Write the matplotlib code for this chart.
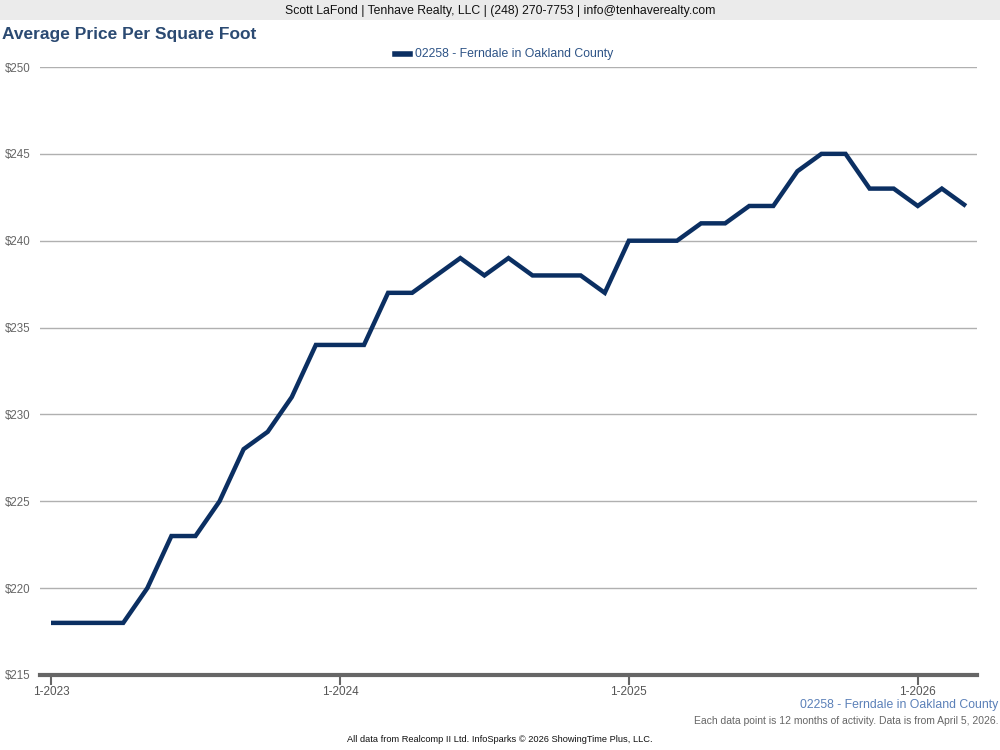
import matplotlib
matplotlib.use("Agg")
import matplotlib.pyplot as plt  # noqa: E402
from matplotlib.patches import Rectangle  # noqa: E402

plt.rcParams["font.family"] = ["Liberation Sans", "DejaVu Sans"]

# -------------------------------
# Data (monthly, 12-month rolling)
# -------------------------------
months = [
    "1-2023", "2-2023", "3-2023", "4-2023", "5-2023", "6-2023", "7-2023", "8-2023",
    "9-2023", "10-2023", "11-2023", "12-2023",
    "1-2024", "2-2024", "3-2024", "4-2024", "5-2024", "6-2024", "7-2024", "8-2024",
    "9-2024", "10-2024", "11-2024", "12-2024",
    "1-2025", "2-2025", "3-2025", "4-2025", "5-2025", "6-2025", "7-2025", "8-2025",
    "9-2025", "10-2025", "11-2025", "12-2025",
    "1-2026", "2-2026", "3-2026",
]
price_per_sqft = [
    218, 218, 218, 218, 220, 223, 223, 225, 228, 229, 231, 234,
    234, 234, 237, 237, 238, 239, 238, 239, 238, 238, 238, 237,
    240, 240, 240, 241, 241, 242, 242, 244, 245, 245, 243, 243,
    242, 243, 242,
]
series_name = "02258 - Ferndale in Oakland County"
y_ticks = [215, 220, 225, 230, 235, 240, 245, 250]

LINE_COLOR = "#0b2f62"
TITLE_COLOR = "#2b4a72"

fig = plt.figure(figsize=(10, 7.5), dpi=100)

# header band
fig.patches.append(Rectangle((0, 1 - 20 / 750), 1, 20 / 750, transform=fig.transFigure,
                             facecolor="#ebebeb", edgecolor="none", zorder=0))
fig.text(0.5, 1 - 11 / 750, "Scott LaFond | Tenhave Realty, LLC | (248) 270-7753 | info@tenhaverealty.com",
         ha="center", va="center", fontsize=8.8, color="#111111")
fig.text(0.002, 1 - 35 / 750, "Average Price Per Square Foot", ha="left", va="center",
         fontsize=12.5, fontweight="bold", color=TITLE_COLOR)

ax = fig.add_axes([0.04, 1 - 675 / 750, 0.937, (675 - 67) / 750])
x = list(range(len(months)))
ax.plot(x, price_per_sqft, color=LINE_COLOR, linewidth=3.2, solid_joinstyle="miter",
        solid_capstyle="butt", zorder=3)

ax.set_xlim(-0.457, 38.46)
ax.set_ylim(215, 250)
ax.set_yticks(y_ticks)
ax.set_yticklabels([f"${v}" for v in y_ticks], fontsize=8.3, color="#666666")
year_idx = [i for i, m in enumerate(months) if m.startswith("1-")]
ax.set_xticks(year_idx)
ax.set_xticklabels([months[i] for i in year_idx], fontsize=8.5, color="#555555")
ax.tick_params(axis="y", length=0, pad=7)
ax.tick_params(axis="x", length=7, width=1.5, color="#666666", direction="out", pad=1)
ax.grid(axis="y", color="#b0b0b0", linewidth=1)
ax.set_axisbelow(True)
for side in ["top", "right", "left"]:
    ax.spines[side].set_visible(False)
ax.spines["bottom"].set_color("#666666")
ax.spines["bottom"].set_linewidth(3)

# legend
fig.lines.append(plt.Line2D([395 / 1000, 410 / 1000], [1 - 54 / 750, 1 - 54 / 750],
                            transform=fig.transFigure, color=LINE_COLOR, linewidth=4))
fig.text(415 / 1000, 1 - 54 / 750, series_name, ha="left", va="center", fontsize=8.8,
         color="#2d5386")

# footer notes
fig.text(0.998, 1 - 705 / 750, series_name, ha="right", va="center", fontsize=8.8,
         color="#5b80b8")
fig.text(0.998, 1 - 721 / 750, "Each data point is 12 months of activity. Data is from April 5, 2026.",
         ha="right", va="center", fontsize=7.5, color="#666666")
fig.text(0.5, 1 - 740 / 750, "All data from Realcomp II Ltd. InfoSparks \u00a9 2026 ShowingTime Plus, LLC.",
         ha="center", va="center", fontsize=6.7, color="#111111")

fig.savefig("out.png", dpi=100)
